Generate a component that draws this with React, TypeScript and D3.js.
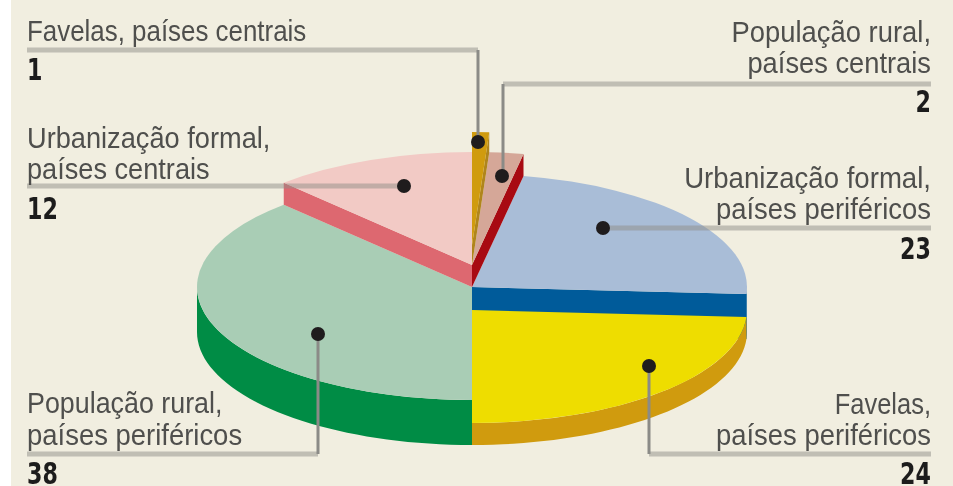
import * as d3 from "d3";

const WIDTH = 953;
const HEIGHT = 486;

// Clockwise from 12 o'clock, in the order the slices sit on the pie
const categories = [
  "Favelas, países centrais",
  "População rural, países centrais",
  "Urbanização formal, países periféricos",
  "Favelas, países periféricos",
  "População rural, países periféricos",
  "Urbanização formal, países centrais",
];
const values = [1, 2, 23, 24, 38, 12];

const topColors = ["#d09b0e", "#d5a798", "#a9bdd7", "#eedd00", "#a9cdb5", "#f2cac5"];
const wallColors = ["#b0851c", "#a80a12", "#005b9a", "#d09b0e", "#008c45", "#dd6870"];

// top-face centre height and wall height of each slice, px
const sliceTops = [245, 265, 287, 310, 287, 265];
const sliceDepths = [20, 22, 45, 22, 45, 22];

const CX = 472;
const RX = 275;
const RY = 113;

// back to front
const drawOrder = [2, 3, 4, 5, 1, 0];

// no condensed face installed, so the labels get squeezed horizontally
const VALUE_SQUEEZE = 0.74;

const rim = (angle: number, cy: number): [number, number] => [
  CX + RX * Math.sin(angle),
  cy - RY * Math.cos(angle),
];

const lineGen = d3.line();

function radialWall(angle: number, top: number, depth: number) {
  return (
    lineGen([
      [CX, top],
      rim(angle, top),
      rim(angle, top + depth),
      [CX, top + depth],
    ]) + "Z"
  );
}

function rimWall(a0: number, a1: number, top: number, depth: number) {
  const from = Math.max(a0, Math.PI / 2);
  const to = Math.min(a1, (3 * Math.PI) / 2);
  if (to <= from) return null;
  const steps = d3.range(0, 41).map((i) => from + ((to - from) * i) / 40);
  const upper = steps.map((a) => rim(a, top));
  const lower = steps.map((a) => rim(a, top + depth)).reverse();
  return lineGen([...upper, ...lower]) + "Z";
}

interface Callout {
  lines: string[];
  squeeze: number[];
  value: number;
  anchor: "start" | "end";
  x: number;
  baselines: number[];
  valueBaseline: number;
  rule: [number, number, number];
  stem?: [number, number, number];
  dot: [number, number];
}

const callouts: Callout[] = [
  {
    lines: ["Favelas, países centrais"],
    squeeze: [0.864],
    value: values[0],
    anchor: "start",
    x: 27,
    baselines: [41],
    valueBaseline: 80,
    rule: [27, 478, 50],
    stem: [478, 50, 142],
    dot: [478, 142],
  },
  {
    lines: ["População rural,", "países centrais"],
    squeeze: [0.913, 0.91],
    value: values[1],
    anchor: "end",
    x: 931,
    baselines: [42, 73],
    valueBaseline: 112,
    rule: [503, 931, 84],
    stem: [503, 84, 176],
    dot: [502, 176],
  },
  {
    lines: ["Urbanização formal,", "países centrais"],
    squeeze: [0.907, 0.905],
    value: values[5],
    anchor: "start",
    x: 27,
    baselines: [148, 179],
    valueBaseline: 219,
    rule: [27, 404, 186],
    dot: [404, 186],
  },
  {
    lines: ["Urbanização formal,", "países periféricos"],
    squeeze: [0.92, 0.915],
    value: values[2],
    anchor: "end",
    x: 931,
    baselines: [188, 219],
    valueBaseline: 259,
    rule: [603, 931, 228],
    dot: [603, 228],
  },
  {
    lines: ["Favelas,", "países periféricos"],
    squeeze: [0.85, 0.915],
    value: values[3],
    anchor: "end",
    x: 931,
    baselines: [414, 445],
    valueBaseline: 484,
    rule: [649, 931, 454],
    stem: [649, 366, 454],
    dot: [649, 366],
  },
  {
    lines: ["População rural,", "países periféricos"],
    squeeze: [0.895, 0.915],
    value: values[4],
    anchor: "start",
    x: 27,
    baselines: [413, 445],
    valueBaseline: 484,
    rule: [27, 318, 454],
    stem: [318, 334, 454],
    dot: [318, 334],
  },
];

export default function App() {
  const slices = d3.pie<number>().sort(null)(values);
  const arc = d3.arc<d3.PieArcDatum<number>>().innerRadius(0).outerRadius(RX);

  return (
    <svg
      width={WIDTH}
      height={HEIGHT}
      style={{ position: "absolute", left: 0, top: 0 }}
    >
      <defs>
        <filter id="soft" x="-5%" y="-20%" width="110%" height="140%">
          <feGaussianBlur stdDeviation={0.6} />
        </filter>
      </defs>
      <rect x={11} y={0} width={WIDTH - 11} height={HEIGHT} fill="#f1eee0" />

      {/* Slices, back to front */}
      {drawOrder.map((i) => {
        const s = slices[i];
        const top = sliceTops[i];
        const depth = sliceDepths[i];
        const wall = rimWall(s.startAngle, s.endAngle, top, depth);
        // the radial face that looks towards the viewer
        const faceAngle = i === 5 ? s.startAngle : s.endAngle;
        return (
          <g key={categories[i]}>
            {i !== 3 && i !== 4 && (
              <path d={radialWall(faceAngle, top, depth)} fill={wallColors[i]} />
            )}
            {wall && <path d={wall} fill={wallColors[i]} />}
            <path
              d={arc(s) ?? ""}
              transform={`translate(${CX},${top}) scale(1,${RY / RX})`}
              fill={topColors[i]}
            />
          </g>
        );
      })}

      {/* Rules and stems */}
      {callouts.map((c, i) => (
        <g key={i}>
          <line
            x1={c.rule[0]}
            x2={c.rule[1]}
            y1={c.rule[2]}
            y2={c.rule[2]}
            stroke="#8f8e88"
            strokeOpacity={0.5}
            strokeWidth={5}
          />
          {c.stem && (
            <line
              x1={c.stem[0]}
              x2={c.stem[0]}
              y1={c.stem[1]}
              y2={c.stem[2]}
              stroke="#8b8b87"
              strokeWidth={3}
            />
          )}
          <circle cx={c.dot[0]} cy={c.dot[1]} r={7} fill="#1f1c1d" />
        </g>
      ))}

      {/* Labels */}
      {callouts.map((c, i) => (
        <g key={i} textAnchor={c.anchor} filter="url(#soft)">
          {c.lines.map((line, j) => (
            <text
              key={j}
              transform={`translate(${c.x},${c.baselines[j]}) scale(${c.squeeze[j]},1)`}
              fontFamily="'Liberation Sans', sans-serif"
              fontSize={30}
              fill="#4f4f4d"
            >
              {line}
            </text>
          ))}
          <text
            transform={`translate(${c.x},${c.valueBaseline}) scale(${VALUE_SQUEEZE},1)`}
            fontFamily="'DejaVu Sans', sans-serif"
            fontWeight={700}
            fontSize={30}
            fill="#1f1c1d"
          >
            {c.value}
          </text>
        </g>
      ))}
    </svg>
  );
}
